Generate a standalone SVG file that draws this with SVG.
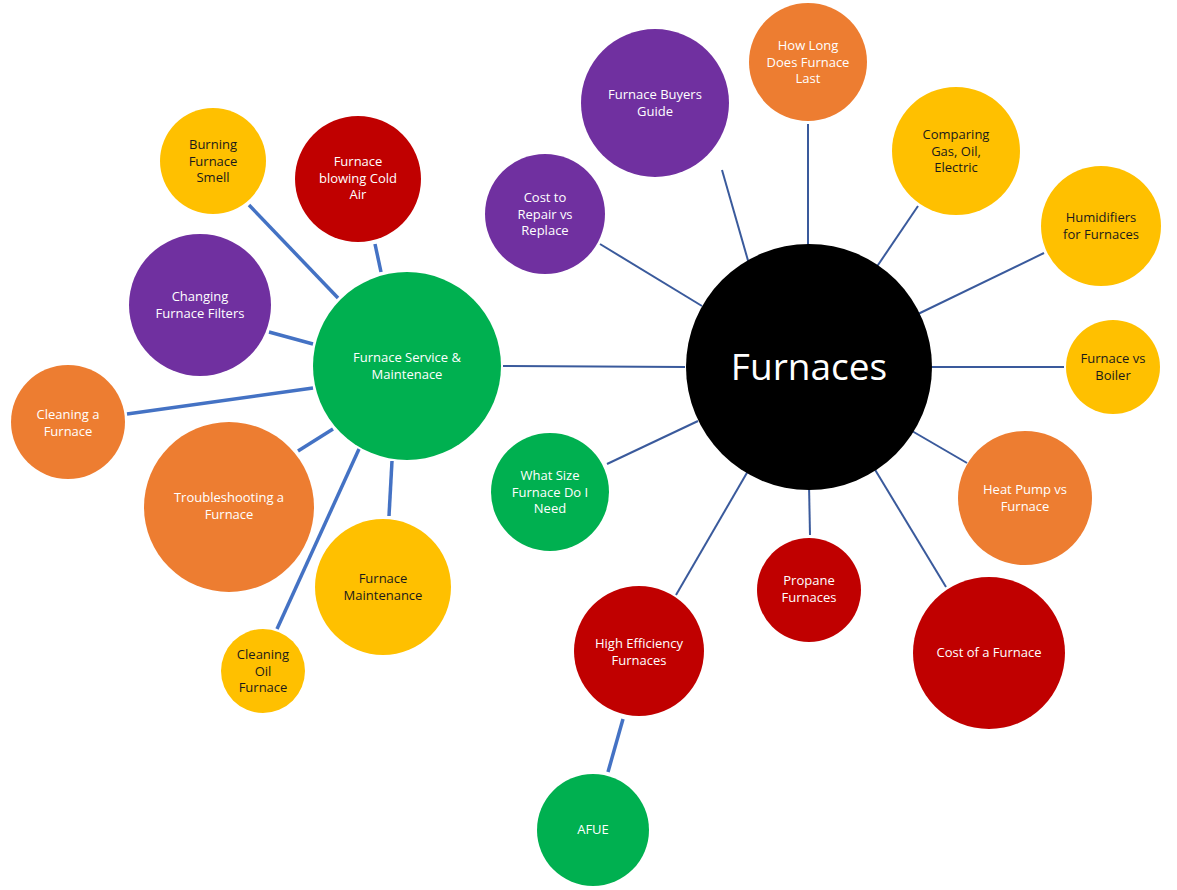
<svg xmlns="http://www.w3.org/2000/svg" width="1177" height="890" viewBox="0 0 1177 890">
<style>
.thin{stroke:#3A5A9C;stroke-width:2;fill:none}
.thick{stroke:#4472C4;stroke-width:3.5;fill:none}
text{font-family:"Open Sans","Noto Sans","Liberation Sans",sans-serif;font-size:13px;text-anchor:middle}
.w{fill:#ffffff}
.k{fill:#1a1a1a}
.purple{fill:#7030A0}
.red{fill:#C00000}
.orange{fill:#ED7D31}
.yellow{fill:#FFC000}
.green{fill:#00B050}
</style>
<rect width="1177" height="890" fill="#ffffff"/>
<g id="connectors">
<line class="thick" x1="249" y1="205" x2="338" y2="298"/>
<line class="thick" x1="375" y1="244" x2="381" y2="272"/>
<line class="thick" x1="269" y1="332" x2="313" y2="344"/>
<line class="thick" x1="127" y1="414" x2="313" y2="388"/>
<line class="thick" x1="298" y1="451" x2="333" y2="429"/>
<line class="thick" x1="389" y1="516" x2="392" y2="461"/>
<line class="thick" x1="277" y1="629" x2="359" y2="449"/>
<line class="thick" x1="608" y1="772" x2="623" y2="719"/>
<line class="thin" x1="503" y1="366" x2="685" y2="367"/>
<line class="thin" x1="600" y1="244" x2="702" y2="306"/>
<line class="thin" x1="722" y1="170" x2="749" y2="264"/>
<line class="thin" x1="808" y1="124" x2="808" y2="248"/>
<line class="thin" x1="918" y1="206" x2="876" y2="268"/>
<line class="thin" x1="1044" y1="253" x2="918" y2="314"/>
<line class="thin" x1="932" y1="367" x2="1064" y2="367"/>
<line class="thin" x1="912" y1="431" x2="967" y2="463"/>
<line class="thin" x1="874" y1="468" x2="946" y2="587"/>
<line class="thin" x1="809" y1="484" x2="810" y2="535"/>
<line class="thin" x1="748" y1="471" x2="676" y2="595"/>
<line class="thin" x1="607" y1="464" x2="698" y2="421"/>
</g>
<g id="furnaces">
<circle cx="809" cy="367" r="123" fill="#000000"/>
<text x="809" y="380" class="w" style="font-size:37px">Furnaces</text>
</g>
<g id="service">
<circle class="green" cx="407" cy="366" r="94"/>
<text class="w" x="407" y="362">Furnace Service &amp;</text>
<text class="w" x="407" y="379">Maintenace</text>
</g>
<g id="burning">
<circle class="yellow" cx="213" cy="161" r="53"/>
<text class="k" x="213" y="149">Burning</text>
<text class="k" x="213" y="165.5">Furnace</text>
<text class="k" x="213" y="182">Smell</text>
</g>
<g id="coldair">
<circle class="red" cx="358" cy="179" r="63"/>
<text class="w" x="358" y="166">Furnace</text>
<text class="w" x="358" y="182.5">blowing Cold</text>
<text class="w" x="358" y="199">Air</text>
</g>
<g id="filters">
<circle class="purple" cx="200" cy="305" r="71"/>
<text class="w" x="200" y="301">Changing</text>
<text class="w" x="200" y="318">Furnace Filters</text>
</g>
<g id="cleaning">
<circle class="orange" cx="68" cy="422" r="57"/>
<text class="w" x="68" y="419">Cleaning a</text>
<text class="w" x="68" y="436">Furnace</text>
</g>
<g id="troubleshooting">
<circle class="orange" cx="229" cy="507" r="85"/>
<text class="w" x="229" y="502">Troubleshooting a</text>
<text class="w" x="229" y="519">Furnace</text>
</g>
<g id="maintenance">
<circle class="yellow" cx="383" cy="587" r="68"/>
<text class="k" x="383" y="583">Furnace</text>
<text class="k" x="383" y="600">Maintenance</text>
</g>
<g id="oil">
<circle class="yellow" cx="263" cy="671" r="42"/>
<text class="k" x="263" y="659">Cleaning</text>
<text class="k" x="263" y="675.5">Oil</text>
<text class="k" x="263" y="692">Furnace</text>
</g>
<g id="repair">
<circle class="purple" cx="545" cy="214" r="60"/>
<text class="w" x="545" y="202">Cost to</text>
<text class="w" x="545" y="219">Repair vs</text>
<text class="w" x="545" y="235">Replace</text>
</g>
<g id="buyers">
<circle class="purple" cx="655" cy="103" r="74"/>
<text class="w" x="655" y="99">Furnace Buyers</text>
<text class="w" x="655" y="116">Guide</text>
</g>
<g id="howlong">
<circle class="orange" cx="808" cy="62" r="59"/>
<text class="w" x="808" y="50">How Long</text>
<text class="w" x="808" y="66.5">Does Furnace</text>
<text class="w" x="808" y="83">Last</text>
</g>
<g id="comparing">
<circle class="yellow" cx="956" cy="151" r="64"/>
<text class="k" x="956" y="139">Comparing</text>
<text class="k" x="956" y="155.5">Gas, Oil,</text>
<text class="k" x="956" y="172">Electric</text>
</g>
<g id="humidifiers">
<circle class="yellow" cx="1101" cy="226" r="60"/>
<text class="k" x="1101" y="222">Humidifiers</text>
<text class="k" x="1101" y="239">for Furnaces</text>
</g>
<g id="boiler">
<circle class="yellow" cx="1113" cy="367" r="47"/>
<text class="k" x="1113" y="363">Furnace vs</text>
<text class="k" x="1113" y="380">Boiler</text>
</g>
<g id="heatpump">
<circle class="orange" cx="1025" cy="498" r="67"/>
<text class="w" x="1025" y="494">Heat Pump vs</text>
<text class="w" x="1025" y="511">Furnace</text>
</g>
<g id="cost">
<circle class="red" cx="989" cy="653" r="76"/>
<text class="w" x="989" y="657">Cost of a Furnace</text>
</g>
<g id="propane">
<circle class="red" cx="809" cy="590" r="52"/>
<text class="w" x="809" y="585">Propane</text>
<text class="w" x="809" y="602">Furnaces</text>
</g>
<g id="highefficiency">
<circle class="red" cx="639" cy="651" r="65"/>
<text class="w" x="639" y="648">High Efficiency</text>
<text class="w" x="639" y="665">Furnaces</text>
</g>
<g id="afue">
<circle class="green" cx="593" cy="830" r="56"/>
<text class="w" x="593" y="834">AFUE</text>
</g>
<g id="whatsize">
<circle class="green" cx="550" cy="492" r="59"/>
<text class="w" x="550" y="480">What Size</text>
<text class="w" x="550" y="496.5">Furnace Do I</text>
<text class="w" x="550" y="513">Need</text>
</g>
</svg>
